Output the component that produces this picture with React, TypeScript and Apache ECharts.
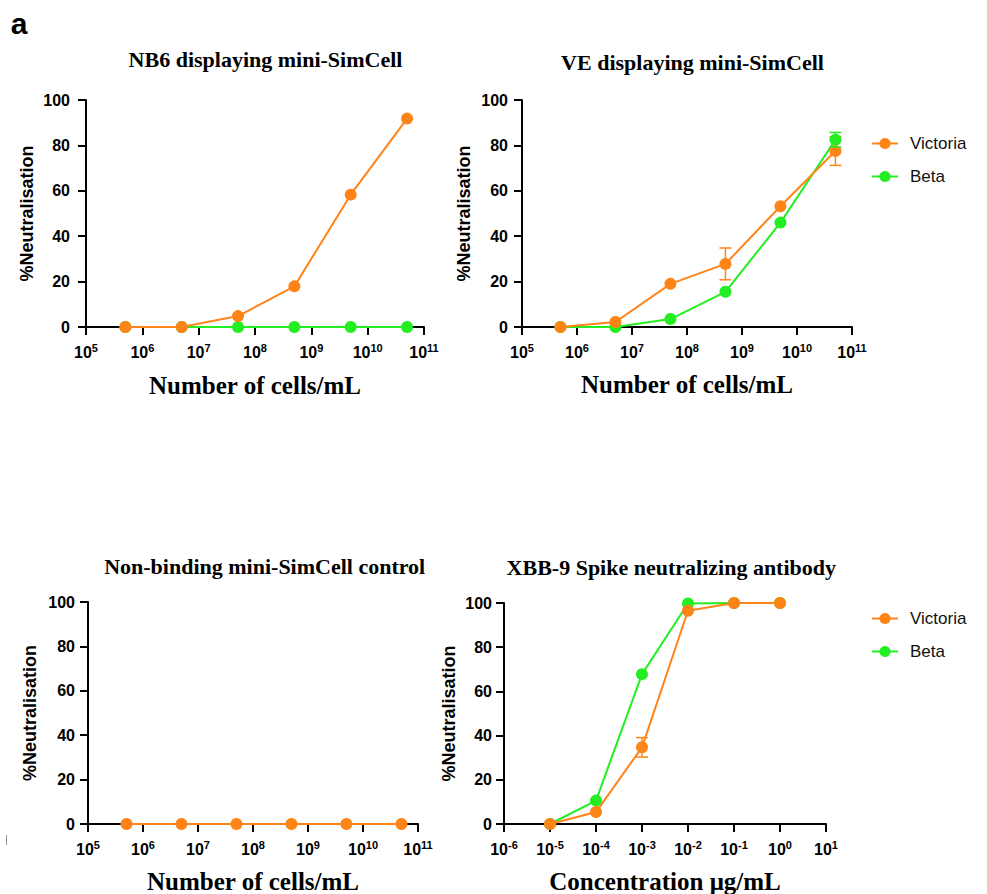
import React, { useEffect, useRef } from "react";
import * as echarts from "echarts";

// ---------- data ----------
const cellConc = [5e5, 5e6, 5e7, 5e8, 5e9, 5e10];
const abConc = [1e-5, 1e-4, 1e-3, 1e-2, 1e-1, 1];

const nb6Victoria = [0, 0, 4.8, 17.9, 58.3, 91.8];
const nb6Beta = [0, 0, 0, 0, 0, 0];

const veVictoria = [0, 2.2, 19, 27.8, 53.2, 77.5];
const veVictoriaErr = [0, 0, 0, 7, 0, 6.3];
const veBeta = [0, 0, 3.5, 15.5, 46, 82.5];
const veBetaErr = [0, 0, 0, 0, 0, 3.2];

const ctrlVictoria = [0, 0, 0, 0, 0, 0];

const xbbVictoria = [0, 5.4, 34.7, 96.5, 100, 100];
const xbbVictoriaErr = [0, 0, 4.4, 0, 0, 0];
const xbbBeta = [0, 10.6, 67.8, 99.8, 100, 100];

const panelTitles = [
  "NB6 displaying mini-SimCell",
  "VE displaying mini-SimCell",
  "Non-binding mini-SimCell control",
  "XBB-9 Spike neutralizing antibody",
];
const xTitles = ["Number of cells/mL", "Number of cells/mL", "Number of cells/mL", "Concentration μg/mL"];
const yTitle = "%Neutralisation";
const seriesNames = ["Victoria", "Beta"];

const ORANGE = "#ff8418";
const GREEN = "#22ee22";
const SANS = "'Liberation Sans', Arial, sans-serif";
const SERIF = "'Liberation Serif', 'Times New Roman', serif";

const grids = [
  { left: 86, top: 100, width: 338, height: 227 },
  { left: 522, top: 100, width: 330, height: 227 },
  { left: 88, top: 602, width: 330, height: 222 },
  { left: 504, top: 603, width: 322, height: 221 },
];
const xRanges = [
  [1e5, 1e11, 6],
  [1e5, 1e11, 6],
  [1e5, 1e11, 6],
  [1e-6, 1e1, 7],
];
const yLabelMargins = [16, 14, 13, 12];
const yNameGaps = [50, 49, 49, 46];
const xNameGaps = [46, 45, 45, 45];
const titlePos = [
  [265.5, 59.5],
  [692.5, 62],
  [264.7, 566],
  [671.3, 567],
];

function pairs(xs: number[], ys: number[]) {
  return xs.map((x, i) => [x, ys[i]]);
}
function errPairs(xs: number[], ys: number[], es: number[]) {
  return xs
    .map((x, i) => [x, ys[i] - es[i], ys[i] + es[i]])
    .filter((_, i) => es[i] > 0);
}

function lineSeries(name: string, color: string, idx: number, data: number[][], z: number) {
  return {
    type: "line",
    name,
    xAxisIndex: idx,
    yAxisIndex: idx,
    data,
    symbol: "circle",
    symbolSize: 12,
    showSymbol: true,
    lineStyle: { color, width: 2 },
    itemStyle: { color },
    z,
  };
}

function errSeries(color: string, idx: number, data: number[][], z: number) {
  return {
    type: "custom",
    name: "err",
    xAxisIndex: idx,
    yAxisIndex: idx,
    data,
    encode: { x: 0, y: [1, 2] },
    z,
    renderItem: (params: any, api: any) => {
      const x = api.value(0);
      const lo = api.coord([x, api.value(1)]);
      const hi = api.coord([x, api.value(2)]);
      const w = 6;
      const st = { stroke: color, lineWidth: 1.5 };
      return {
        type: "group",
        children: [
          { type: "line", shape: { x1: lo[0], y1: lo[1], x2: hi[0], y2: hi[1] }, style: st },
          { type: "line", shape: { x1: lo[0] - w, y1: lo[1], x2: lo[0] + w, y2: lo[1] }, style: st },
          { type: "line", shape: { x1: hi[0] - w, y1: hi[1], x2: hi[0] + w, y2: hi[1] }, style: st },
        ],
      };
    },
  };
}

export default function App() {
  const ref = useRef<HTMLDivElement>(null);
  useEffect(() => {
    if (!ref.current) return;
    const chart = echarts.init(ref.current, null, { renderer: "svg" });

    const xAxis = grids.map((_, i) => ({
      type: "log",
      logBase: 10,
      gridIndex: i,
      min: xRanges[i][0],
      max: xRanges[i][1],
      splitNumber: xRanges[i][2],
      name: xTitles[i],
      nameLocation: "middle",
      nameGap: xNameGaps[i],
      nameTextStyle: { fontFamily: SERIF, fontWeight: "bold", fontSize: 25, color: "#000" },
      axisLine: { show: true, onZero: false, lineStyle: { color: "#000", width: 2 } },
      axisTick: { show: true, length: 8, lineStyle: { color: "#000", width: 2 } },
      minorTick: { show: false },
      splitLine: { show: false },
      axisLabel: {
        margin: 15,
        formatter: (v: number) => `{b|10}{s|${Math.round(Math.log10(v))}}`,
        rich: {
          b: { fontFamily: SANS, fontWeight: "bold", fontSize: 16, color: "#000" },
          s: { fontFamily: SANS, fontWeight: "bold", fontSize: 11, color: "#000", padding: [0, 0, 9, 0] },
        },
      },
    }));

    const yAxis = grids.map((_, i) => ({
      type: "value",
      gridIndex: i,
      min: 0,
      max: 100,
      interval: 20,
      name: yTitle,
      nameLocation: "middle",
      nameGap: yNameGaps[i],
      nameTextStyle: { fontFamily: SANS, fontWeight: "bold", fontSize: 18, color: "#000" },
      axisLine: { show: true, lineStyle: { color: "#000", width: 2 } },
      axisTick: { show: true, length: 8, lineStyle: { color: "#000", width: 2 } },
      splitLine: { show: false },
      axisLabel: {
        margin: yLabelMargins[i],
        fontFamily: SANS,
        fontWeight: "bold",
        fontSize: 16,
        color: "#000",
      },
    }));

    const series: any[] = [
      lineSeries("Beta", GREEN, 0, pairs(cellConc, nb6Beta), 2),
      lineSeries("Victoria", ORANGE, 0, pairs(cellConc, nb6Victoria), 4),

      errSeries(ORANGE, 1, errPairs(cellConc, veVictoria, veVictoriaErr), 1),
      lineSeries("Beta", GREEN, 1, pairs(cellConc, veBeta), 2),
      lineSeries("Victoria", ORANGE, 1, pairs(cellConc, veVictoria), 4),
      errSeries(GREEN, 1, errPairs(cellConc, veBeta, veBetaErr), 5),

      lineSeries("Victoria", ORANGE, 2, pairs(cellConc, ctrlVictoria), 4),

      lineSeries("Beta", GREEN, 3, pairs(abConc, xbbBeta), 2),
      errSeries(ORANGE, 3, errPairs(abConc, xbbVictoria, xbbVictoriaErr), 3),
      lineSeries("Victoria", ORANGE, 3, pairs(abConc, xbbVictoria), 4),
    ];

    const legendBase = {
      data: seriesNames,
      orient: "vertical",
      left: 866,
      itemWidth: 26,
      itemHeight: 14,
      itemGap: 16,
      selectedMode: false,
      textStyle: { fontFamily: SANS, fontSize: 17, color: "#111", padding: [0, 0, 0, 7] },
    };

    const graphic: any[] = [
      {
        type: "text",
        x: 19,
        y: 23,
        style: { text: "a", font: `bold 30px ${SANS}`, fill: "#000", align: "center", verticalAlign: "middle" },
      },
      { type: "line", shape: { x1: 6.5, y1: 835, x2: 6.5, y2: 845 }, style: { stroke: "#999", lineWidth: 1 } },
      ...panelTitles.map((t, i) => ({
        type: "text",
        x: titlePos[i][0],
        y: titlePos[i][1],
        style: {
          text: t,
          font: `bold 22px ${SERIF}`,
          fill: "#000",
          align: "center",
          verticalAlign: "middle",
        },
      })),
    ];

    chart.setOption({
      animation: false,
      backgroundColor: "#fff",
      grid: grids.map((g) => ({ ...g, containLabel: false, outerBoundsMode: "none" })),
      xAxis,
      yAxis,
      series,
      legend: [
        { ...legendBase, top: 130 },
        { ...legendBase, top: 605 },
      ],
      graphic,
    });
    return () => chart.dispose();
  }, []);
  return (
    <div
      ref={ref}
      style={{ position: "absolute", left: 0, top: 0, width: 987, height: 894, background: "#fff" }}
    />
  );
}
